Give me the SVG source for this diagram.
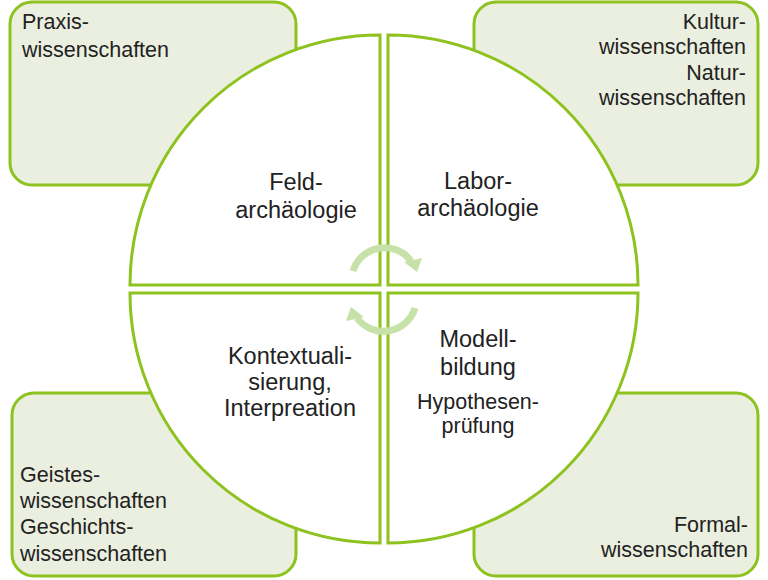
<svg xmlns="http://www.w3.org/2000/svg" width="768" height="580" viewBox="0 0 768 580">
<style>
.box{fill:#ebefdf;stroke:#8dc21f;stroke-width:3}
.q{fill:#fff;stroke:#8dc21f;stroke-width:3}
.t{font-family:"Liberation Sans",Arial,sans-serif;fill:#222}
.c{font-size:21.5px}
.m{font-size:23.5px;text-anchor:middle}
.s{font-size:21.5px;text-anchor:middle}
.arr{fill:none;stroke:#c6e2a8;stroke-width:7}
</style>
<rect width="768" height="580" fill="#fff"/>
<g id="box-tl"><rect class="box" x="10" y="2" width="286" height="183" rx="22"/><text class="t c" x="22" y="29">Praxis-</text><text class="t c" x="22" y="57">wissenschaften</text></g>
<g id="box-tr"><rect class="box" x="474" y="2" width="284" height="183" rx="22"/><text class="t c" x="746" y="29" text-anchor="end">Kultur-</text><text class="t c" x="746" y="54" text-anchor="end">wissenschaften</text><text class="t c" x="746" y="80" text-anchor="end">Natur-</text><text class="t c" x="746" y="105" text-anchor="end">wissenschaften</text></g>
<g id="box-bl"><rect class="box" x="12" y="393" width="284" height="183" rx="22"/><text class="t c" x="20" y="482">Geistes-</text><text class="t c" x="20" y="508">wissenschaften</text><text class="t c" x="20" y="534">Geschichts-</text><text class="t c" x="20" y="561">wissenschaften</text></g>
<g id="box-br"><rect class="box" x="474" y="393" width="284" height="183" rx="22"/><text class="t c" x="748" y="532" text-anchor="end">Formal-</text><text class="t c" x="748" y="557" text-anchor="end">wissenschaften</text></g>
<g id="q-tl"><path class="q" d="M380,285 L380,35 A250,250 0 0 0 130,285 Z"/><text class="t m" x="296" y="190">Feld-</text><text class="t m" x="296" y="218">archäologie</text></g>
<g id="q-tr"><path class="q" d="M388,285 L388,35 A250,250 0 0 1 638,285 Z"/><text class="t m" x="478" y="189">Labor-</text><text class="t m" x="478" y="216">archäologie</text></g>
<g id="q-bl"><path class="q" d="M380,293 L380,543 A250,250 0 0 1 130,293 Z"/><text class="t m" x="290" y="364">Kontextuali-</text><text class="t m" x="290" y="390">sierung,</text><text class="t m" x="290" y="416">Interpreation</text></g>
<g id="q-br"><path class="q" d="M388,293 L388,543 A250,250 0 0 0 638,293 Z"/><text class="t m" x="478" y="347">Modell-</text><text class="t m" x="478" y="375">bildung</text><text class="t s" x="478" y="409">Hypothesen-</text><text class="t s" x="478" y="433">prüfung</text></g>
<g id="connectors">
<path class="arr" d="M353,271 A33,33 0 0 1 411,261"/>
<polygon points="404,262 422,258 417,272" fill="#c6e2a8"/>
<path class="arr" d="M415,308 A33,33 0 0 1 357,318"/>
<polygon points="364,317 346,321 351,307" fill="#c6e2a8"/>
</g>
</svg>
